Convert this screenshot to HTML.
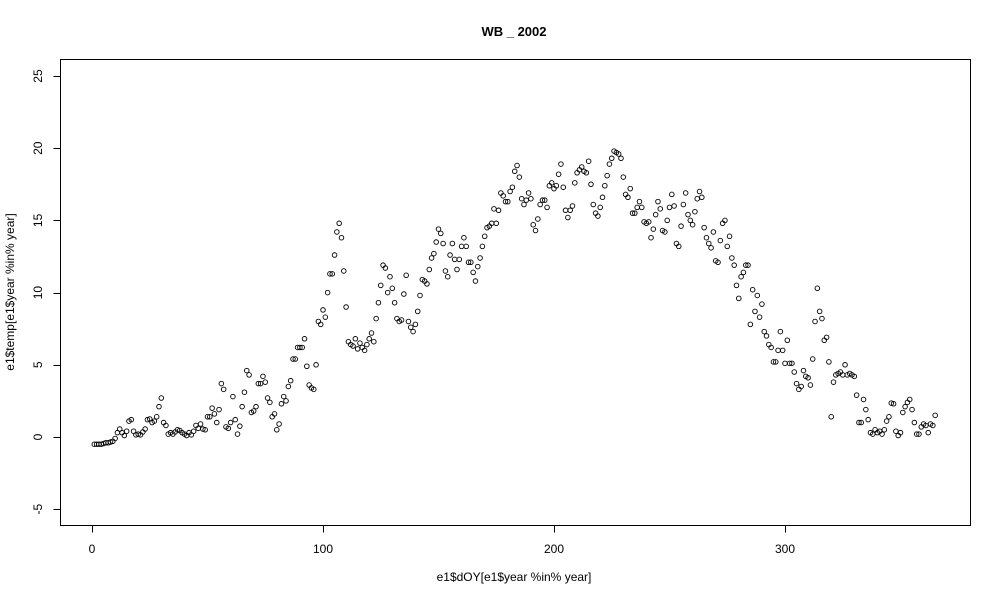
<!DOCTYPE html>
<html><head><meta charset="utf-8"><style>
body{margin:0;background:#fff;}
svg{display:block;font-family:"Liberation Sans",Arial,sans-serif;}
</style></head><body>
<svg id="chart" width="1000" height="600" viewBox="0 0 1000 600" xmlns="http://www.w3.org/2000/svg">
<rect x="0" y="0" width="1000" height="600" fill="#fff"/>
<text x="514" y="36" text-anchor="middle" font-size="13" font-weight="bold">WB _ 2002</text>
<rect x="60.5" y="59.5" width="910" height="466" fill="none" stroke="#000" stroke-width="1"/>
<g id="xaxis"></g>
<g id="yaxis"></g>
<text x="514" y="581" text-anchor="middle" font-size="12">e1$dOY[e1$year %in% year]</text>
<text x="14" y="292" text-anchor="middle" font-size="12" transform="rotate(-90 14 292)">e1$temp[e1$year %in% year]</text>
<g id="points"></g>
</svg>
<script>
const xTicks=[0,100,200,300];
const yTicks=[-5,0,5,10,15,20,25];
const temps=[
-0.5,-0.5,-0.5,-0.5,-0.45,-0.4,-0.4,-0.35,-0.3,-0.1,
0.3,0.55,0.3,0.1,0.4,1.1,1.2,0.4,0.15,0.2,
0.15,0.35,0.55,1.2,1.25,1.0,1.1,1.4,2.1,2.7,
1.0,0.8,0.2,0.3,0.2,0.35,0.5,0.45,0.3,0.2,
0.1,0.3,0.15,0.4,0.8,0.6,0.9,0.55,0.5,1.4,
1.4,2.0,1.6,1.0,1.9,3.7,3.3,0.7,0.6,1.0,
2.8,1.2,0.2,0.75,2.1,3.1,4.6,4.3,1.7,1.8,
2.1,3.7,3.7,4.2,3.8,2.7,2.4,1.4,1.6,0.5,
0.9,2.3,2.8,2.5,3.5,3.9,5.4,5.4,6.2,6.2,
6.2,6.8,4.9,3.6,3.4,3.3,5.0,8.0,7.8,8.8,
8.3,10.0,11.3,11.3,12.6,14.2,14.8,13.8,11.5,9.0,
6.6,6.4,6.3,6.8,6.1,6.5,6.2,6.0,6.4,6.8,
7.2,6.6,8.2,9.3,10.5,11.9,11.7,10.0,11.1,10.3,
9.3,8.2,8.0,8.1,9.9,11.2,8.0,7.6,7.3,7.8,
8.7,9.8,10.9,10.8,10.6,11.6,12.4,12.7,13.5,14.4,
14.1,13.4,11.5,11.1,12.6,13.4,12.3,11.6,12.3,13.2,
13.8,13.2,12.1,12.1,11.4,10.8,11.8,12.4,13.2,13.9,
14.5,14.6,14.8,15.8,14.8,15.7,16.9,16.7,16.3,16.3,
17.0,17.3,18.4,18.8,18.0,16.5,16.1,16.4,16.9,16.5,
14.7,14.3,15.1,16.1,16.4,16.4,15.9,17.4,17.6,17.2,
17.4,18.2,18.9,17.3,15.7,15.2,15.7,16.0,17.6,18.3,
18.5,18.7,18.4,18.3,19.1,17.5,16.1,15.5,15.3,15.9,
16.6,17.4,18.1,18.9,19.3,19.8,19.7,19.6,19.3,18.0,
16.8,16.6,17.2,15.5,15.5,15.9,16.3,15.9,14.9,14.8,
14.9,13.8,14.4,15.4,16.3,15.8,14.3,14.2,15.0,15.9,
16.8,16.0,13.4,13.2,14.6,16.1,16.9,15.4,15.0,14.7,
15.6,16.5,17.0,16.6,14.5,13.8,13.4,13.1,14.2,12.2,
12.1,13.6,14.8,15.0,13.2,13.9,12.4,11.9,10.5,9.6,
11.1,11.4,11.9,11.9,7.8,10.2,8.7,9.8,8.3,9.2,
7.3,7.0,6.4,6.2,5.2,5.2,6.0,7.3,6.0,5.1,6.7,5.1,
5.1,4.5,3.7,3.3,3.5,4.6,4.2,4.1,3.6,5.4,
8.0,10.3,8.7,8.2,6.7,6.9,5.2,1.4,3.8,4.3,
4.4,4.5,4.3,5.0,4.3,4.4,4.3,4.2,2.9,1.0,
1.0,2.6,1.9,1.2,0.3,0.2,0.5,0.3,0.4,0.2,
0.5,1.1,1.4,2.35,2.3,0.4,0.1,0.3,
1.7,2.1,2.4,2.6,1.9,1.0,0.2,0.2,0.7,0.9,
0.8,0.3,0.9,0.8,1.5];
const NS="http://www.w3.org/2000/svg";
function xs(v){return 92+v*2.31;}
function ys(v){return 437-v*14.44;}
function mk(tag,attrs,parent){const e=document.createElementNS(NS,tag);for(const k in attrs)e.setAttribute(k,attrs[k]);parent.appendChild(e);return e;}
const xa=document.getElementById('xaxis');
mk('line',{x1:xs(xTicks[0]),x2:xs(xTicks[xTicks.length-1]),y1:525.5,y2:525.5,stroke:'#000'},xa);
xTicks.forEach(t=>{
  const l=mk('line',{x1:Math.round(xs(t))+0.5,x2:Math.round(xs(t))+0.5,y1:525.5,y2:532.5,stroke:'#000'},xa);
  
  
  const tx=mk('text',{x:xs(t),y:553,'text-anchor':'middle','font-size':12},xa);
  tx.textContent=t;
  
  
});
const ya=document.getElementById('yaxis');
yTicks.forEach(t=>{
  const y=Math.round(ys(t))+0.5;
  const l=mk('line',{x1:53.5,x2:60.5,y1:y,y2:y,stroke:'#000'},ya);
  
  
  const tx=mk('text',{x:42,y:ys(t),'text-anchor':'middle','font-size':12,transform:'rotate(-90 42 '+ys(t)+')'},ya);
  tx.textContent=t;
  
  
});
const pg=document.getElementById('points');
temps.forEach((v,i)=>{
  const c=mk('circle',{cx:xs(i+1),cy:ys(v),r:2.3,fill:'none',stroke:'#000','stroke-width':0.9},pg);
  
  
});
</script>
</body></html>
